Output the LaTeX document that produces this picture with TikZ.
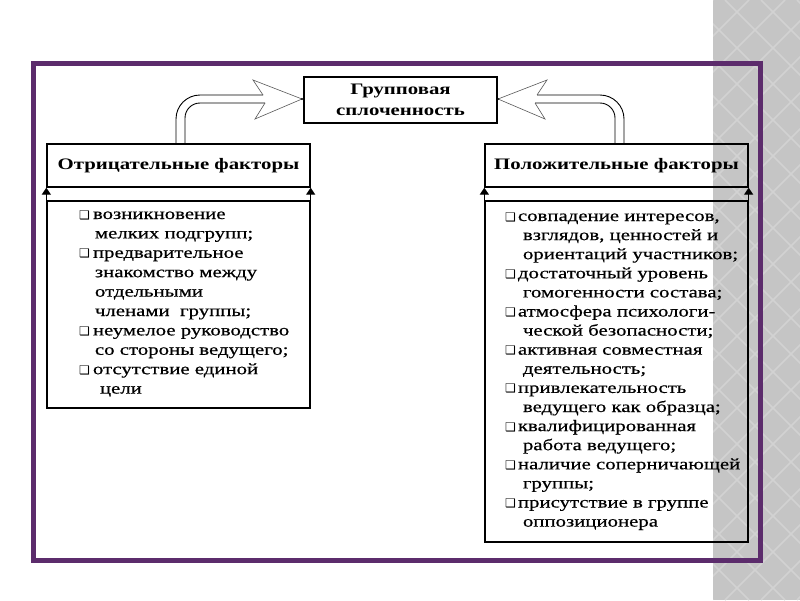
\documentclass[tikz,border=0pt]{standalone}
\usepackage{fontspec}
\setmainfont{Liberation Serif}[FakeStretch=1.3]
\newfontfamily\listfont{Liberation Serif}[FakeStretch=1.3,FakeBold=0.5]
\newfontfamily\dejavu{DejaVu Sans}
\usetikzlibrary{arrows.meta}
\definecolor{framepurple}{RGB}{92,44,108}
\definecolor{stripgray}{RGB}{197,197,197}
\definecolor{stripline}{RGB}{210,210,210}
\newcommand{\bul}{{\dejavu\fontsize{12}{12}\selectfont ❑}}
\begin{document}
\begin{tikzpicture}[x=1pt,y=-1pt,
  box/.style={draw, line width=1.3pt, inner sep=0pt, rectangle},
  headtext/.style={font=\fontsize{16}{19}\selectfont\bfseries},
  listtext/.style={inner sep=0pt, anchor=base west, font=\listfont\fontsize{16}{19.4}\selectfont},
  shaft/.style={line width=0.9pt},
  arrowhead/.style={line width=0.6pt, black!65},
  uparrow/.style={line width=1.3pt, -{Triangle[width=9pt,length=7pt]}}]
\useasboundingbox (0,0) rectangle (800,600);
\fill[white] (0,0) rectangle (800,600);
% gray strip with diamond pattern
\begin{scope}
\clip (713,0) rectangle (800,600);
\fill[stripgray] (713,0) rectangle (800,600);
\foreach \a in {113,149,...,800} {
  \draw[stripline, line width=1.5pt] (\a,0) -- ++(600,600);
  \draw[stripline, line width=1.5pt] (\a+600,0) -- ++(-600,600);
}
\end{scope}
% purple frame
\draw[framepurple, line width=5pt] (33.5,63.5) rectangle (760.5,560.5);
% main box
\node[box, minimum width=193pt, minimum height=46pt, align=center,
  font=\fontsize{16}{21}\selectfont\bfseries] (main) at (400.5,100) {Групповая\\сплоченность};
% headers
\node[box, minimum width=263pt, minimum height=43pt, headtext] (lhead) at (178.5,165.5) {Отрицательные факторы};
\node[box, minimum width=263pt, minimum height=43pt, headtext] (rhead) at (616.5,165.5) {Положительные факторы};
% list boxes
\node[box, minimum width=263pt, minimum height=207pt] (lbox) at (178.5,304.5) {};
\node[box, minimum width=263pt, minimum height=341pt] (rbox) at (616.5,371.5) {};
% small arrows
\draw[uparrow] (lbox.north west) -- (lhead.south west);
\draw[uparrow] (lbox.north east) -- (lhead.south east);
\draw[uparrow] (rbox.north west) -- (rhead.south west);
\draw[uparrow] (rbox.north east) -- (rhead.south east);
% hollow arrows
\coordinate (ltip) at (302,99);
\coordinate (rtip) at (498,99);
\draw[shaft, rounded corners=24pt] (176,144) |- (263,95);
\draw[shaft, rounded corners=15pt] (185,144) |- (265,103);
\draw[arrowhead] (263,95) -- (253,80) -- (ltip) -- (255,119) -- (265,103);
\fill (ltip) circle (1.2pt);
\draw[shaft, rounded corners=24pt] (624,144) |- (537,95);
\draw[shaft, rounded corners=15pt] (615,144) |- (535,103);
\draw[arrowhead] (537,95) -- (547,80) -- (rtip) -- (545,119) -- (535,103);
\fill (rtip) circle (1.2pt);
% left list
\node[listtext] (ltext) at (79,219) {\begin{tabular}[t]{@{}l@{\hspace{3pt}}l@{}}
\bul & возникновение\\
 & \hspace{2pt}мелких подгрупп;\\
\bul & предварительное\\
 & \hspace{2pt}знакомство между\\
 & \hspace{2pt}отдельными\\
 & \hspace{2pt}членами\ \ группы;\\
\bul & неумелое руководство\\
 & \hspace{2pt}со стороны ведущего;\\
\bul & отсутствие единой\\
 & \hspace{7pt}цели
\end{tabular}};
% right list
\node[listtext, font=\listfont\fontsize{16}{19.1}\selectfont] (rtext) at (505,221) {\begin{tabular}[t]{@{}l@{\hspace{2pt}}l@{}}
\bul & совпадение интересов,\\
 & \hspace{5pt}взглядов, ценностей и\\
 & \hspace{5pt}ориентаций участников;\\
\bul & достаточный уровень\\
 & \hspace{5pt}гомогенности состава;\\
\bul & атмосфера психологи-\\
 & \hspace{5pt}ческой безопасности;\\
\bul & активная совместная\\
 & \hspace{5pt}деятельность;\\
\bul & привлекательность\\
 & \hspace{5pt}ведущего как образца;\\
\bul & квалифицированная\\
 & \hspace{5pt}работа ведущего;\\
\bul & наличие соперничающей\\
 & \hspace{5pt}группы;\\
\bul & присутствие в группе\\
 & \hspace{5pt}оппозиционера
\end{tabular}};
\end{tikzpicture}
\end{document}
